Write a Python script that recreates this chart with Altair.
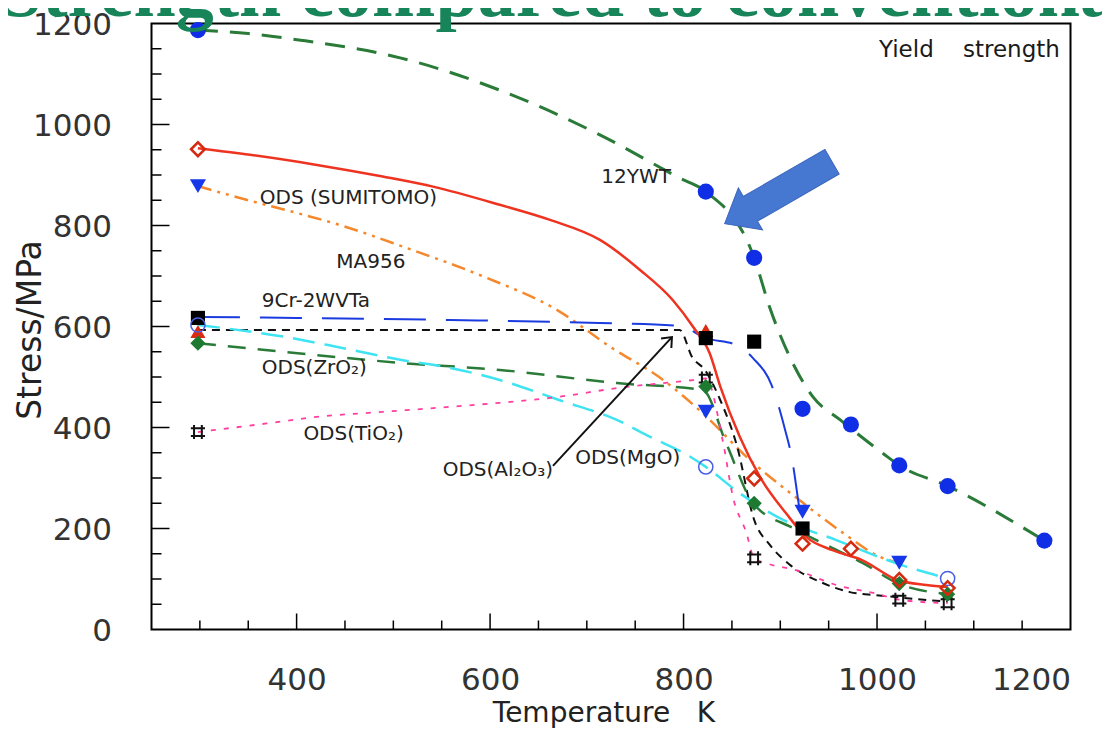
import altair as alt
import pandas as pd

# ---------------- data (Temperature K, Stress MPa) ----------------
ywt_line_K = [298, 350, 404, 507, 610, 714, 796, 823, 873, 889, 910, 934, 962, 1006, 1023, 1073, 1173]
ywt_line_MPa = [1187, 1180, 1167, 1132, 1068, 979, 894, 867, 736, 638, 539, 460, 415, 349, 325, 284, 176]
ywt_pts_K = [298, 823, 873, 923, 973, 1023, 1073, 1173]
ywt_pts_MPa = [1187, 867, 736, 437, 406, 325, 284, 176]

sum_line_K = [298, 352, 421, 489, 541, 610, 662, 714, 755, 789, 810, 827, 838, 858, 879, 906, 927, 954, 985, 1021, 1051, 1073]
sum_line_MPa = [953, 940, 920, 897, 877, 841, 811, 771, 712, 652, 599, 547, 481, 382, 302, 230, 183, 157, 137, 98, 88, 84]
sum_pts_K = [298, 873, 923, 973, 1023, 1073]
sum_pts_MPa = [951, 299, 170, 160, 98, 82]

ma_line_K = [298, 348, 400, 448, 510, 593, 669, 724, 779, 820, 869, 920, 965, 1003, 1023]
ma_line_MPa = [878, 851, 825, 799, 758, 699, 633, 560, 494, 428, 335, 256, 191, 144, 131]
ma_pts_K = [298, 823, 923, 1023]
ma_pts_MPa = [878, 431, 233, 132]

cr_line_K = [298, 400, 558, 713, 796, 823, 855, 872, 891, 905, 912, 920, 923]
cr_line_MPa = [619, 617, 613, 607, 601, 577, 563, 537, 484, 395, 339, 236, 200]
cr_pts_K = [298, 823, 873, 923]
cr_pts_MPa = [617, 577, 570, 200]

zr_line_K = [298, 386, 507, 610, 731, 820, 844, 872, 913, 951, 985, 1021, 1073]
zr_line_MPa = [567, 550, 528, 514, 488, 474, 369, 250, 201, 164, 132, 92, 70]
zr_pts_K = [298, 823, 873, 1023, 1073]
zr_pts_MPa = [567, 481, 250, 91, 70]

ti_line_K = [298, 369, 421, 489, 559, 672, 731, 810, 823, 841, 851, 865, 873, 886, 917, 958, 999, 1023, 1073]
ti_line_MPa = [391, 408, 421, 431, 441, 461, 478, 494, 497, 369, 263, 191, 141, 131, 117, 88, 71, 59, 52]
ti_pts_K = [298, 823, 873, 1023, 1073]
ti_pts_MPa = [391, 497, 141, 59, 52]

al_line_K = [298, 500, 700, 796, 809, 822, 838, 855, 873, 889, 910, 944, 972, 999, 1020, 1073]
al_line_MPa = [593, 593, 593, 593, 539, 514, 454, 365, 217, 168, 128, 92, 74, 68, 64, 55]
al_pts_K = [298, 823]
al_pts_MPa = [590, 592]

mg_line_K = [298, 386, 441, 507, 559, 610, 672, 731, 765, 807, 823, 858, 903, 958, 1020, 1073]
mg_line_MPa = [603, 580, 560, 534, 518, 494, 454, 415, 382, 342, 322, 270, 217, 177, 131, 101]
mg_pts_K = [298, 823, 1073]
mg_pts_MPa = [603, 322, 101]

# labels
left_labels = ["ODS (SUMITOMO)", "MA956", "9Cr-2WVTa", "ODS(ZrO\u2082)", "ODS(TiO\u2082)",
               "ODS(Al\u2082O\u2083)", "ODS(MgO)"]
left_labels_K = [362, 441, 364, 364, 407, 551, 688]
left_labels_MPa = [854, 728, 650, 518, 387, 316, 339]
ywt_label = ["12YWT"]
ywt_label_K = [751]
ywt_label_MPa = [896]
corner_label = ["Yield\u00a0\u00a0\u00a0\u00a0strength"]
corner_label_K = [1189]
corner_label_MPa = [1148]
page_title = ["Strength compared to conventional"]

# arrows
black_arrow_K = [665]
black_arrow_MPa = [324]
black_arrow_K2 = [788]
black_arrow_MPa2 = [579]
blue_arrow_K = [898]
blue_arrow_MPa = [865]

# ticks
x_major = [400, 600, 800, 1000]
x_minor = [300, 350, 450, 500, 550, 650, 700, 750, 850, 900, 950, 1050, 1100, 1150]
y_major = [200, 400, 600, 800, 1000]
y_minor = [50, 100, 150, 250, 300, 350, 450, 500, 550, 650, 700, 750, 850, 900, 950, 1050, 1100, 1150]
x_labels = [400, 600, 800, 1000, 1200]
y_labels = [0, 200, 400, 600, 800, 1000, 1200]

# ---------------- chart ----------------
W, H = 919, 606
FONT = "DejaVu Sans"

xaxis = alt.Axis(values=x_labels, format="d", ticks=False, domain=False, grid=False, labelOverlap=False,
                 labelFont=FONT, labelFontSize=31, labelColor="#333", labelPadding=36,
                 title="Temperature\u00a0\u00a0\u00a0K", titleFont=FONT, titleFontSize=28,
                 titleFontWeight="normal", titleColor="#222", titleX=452, titleY=92,
                 titleAlign="center", titleBaseline="alphabetic")
yaxis = alt.Axis(values=y_labels, format="d", ticks=False, domain=False, grid=False, labelOverlap=False,
                 labelFont=FONT, labelFontSize=31, labelColor="#333", labelPadding=40, labelOffset=2,
                 title="Stress/MPa", titleFont=FONT, titleFontSize=33, titleFontWeight="normal",
                 titleColor="#222", titleX=-121, titleY=306, titleAngle=270,
                 titleAlign="center", titleBaseline="middle")

xs = alt.Scale(domain=[250, 1200], nice=False, zero=False)
ys = alt.Scale(domain=[0, 1200], nice=False, zero=False)
X = alt.X("K:Q", scale=xs, axis=xaxis)
Y = alt.Y("MPa:Q", scale=ys, axis=yaxis)


def df(k, v):
    return pd.DataFrame({"K": k, "MPa": v})


def line(k, v, color, width, dash=None):
    kw = dict(color=color, strokeWidth=width, interpolate="monotone")
    if dash:
        kw["strokeDash"] = dash
    return alt.Chart(df(k, v)).mark_line(**kw).encode(x=X, y=Y)


def pts(k, v, **kw):
    kw.setdefault("opacity", 1)
    return alt.Chart(df(k, v)).mark_point(**kw).encode(x=X, y=Y)


GREEN = "#2a7a38"
layers = []

# tick marks (inward)
layers.append(alt.Chart(pd.DataFrame({"K": x_major})).mark_rule(color="black", strokeWidth=1.5)
              .encode(x=X, y=alt.value(H), y2=alt.value(H - 16)))
layers.append(alt.Chart(pd.DataFrame({"K": x_minor})).mark_rule(color="black", strokeWidth=1.5)
              .encode(x=X, y=alt.value(H), y2=alt.value(H - 9)))
layers.append(alt.Chart(pd.DataFrame({"MPa": y_major})).mark_rule(color="black", strokeWidth=1.5)
              .encode(y=Y, x=alt.value(0), x2=alt.value(18)))
layers.append(alt.Chart(pd.DataFrame({"MPa": y_minor})).mark_rule(color="black", strokeWidth=1.5)
              .encode(y=Y, x=alt.value(0), x2=alt.value(10)))

# lines
layers += [
    line(ywt_line_K, ywt_line_MPa, GREEN, 3, [20, 12]),
    line(ma_line_K, ma_line_MPa, "#f5882c", 2.5, [14, 6, 3, 6, 3, 6]),
    line(cr_line_K, cr_line_MPa, "#1a3be0", 2, [42, 20]),
    line(al_line_K, al_line_MPa, "#111111", 2, [8, 6]),
    line(zr_line_K, zr_line_MPa, GREEN, 2.5, [18, 12]),
    line(mg_line_K, mg_line_MPa, "#3fe3f2", 2.5, [22, 10]),
    line(ti_line_K, ti_line_MPa, "#ff3f9f", 1.8, [5, 8]),
    line(sum_line_K, sum_line_MPa, "#ee3320", 2.5),
]

# markers
HASH = "M-1,-0.55L1,-0.55M-1,0.55L1,0.55M-0.55,-1L-0.55,1M0.55,-1L0.55,1"
layers += [
    pts(ti_pts_K, ti_pts_MPa, shape=HASH, filled=False, color="#111111", strokeWidth=2, size=200),
    pts(al_pts_K, al_pts_MPa, shape="triangle-up", filled=True, color="#dd2a10", size=230),
    pts(cr_pts_K, cr_pts_MPa, shape="square", filled=True, color="#000000", size=200),
    pts(zr_pts_K, zr_pts_MPa, shape="diamond", filled=True, color="#1d7a30", size=230),
    pts(mg_pts_K, mg_pts_MPa, shape="circle", filled=False, color="#4a5ee6", strokeWidth=1.5, size=200),
    pts(sum_pts_K, sum_pts_MPa, shape="diamond", filled=False, color="#d42a10", strokeWidth=2.5, size=190),
    pts(ma_pts_K, ma_pts_MPa, shape="triangle-down", filled=True, color="#1638e8", size=260),
    pts(ywt_pts_K, ywt_pts_MPa, shape="circle", filled=True, color="#0f2ee6", size=260),
]

# arrows
arrow_df = pd.DataFrame({"K": black_arrow_K, "MPa": black_arrow_MPa,
                         "K2": black_arrow_K2, "MPa2": black_arrow_MPa2})
layers.append(alt.Chart(arrow_df).mark_rule(color="#111111", strokeWidth=2)
              .encode(x=X, y=Y, x2="K2:Q", y2="MPa2:Q"))
layers.append(alt.Chart(pd.DataFrame({"K": black_arrow_K2, "MPa": black_arrow_MPa2}))
              .mark_point(shape="M-0.5,0.6L0,0L0.5,0.6", filled=False, color="#111111",
                          strokeWidth=2, size=784, angle=43, opacity=1)
              .encode(x=X, y=Y))
BLOCK = "M0,-1L0.39,-0.52L0.23,-0.52L0.23,1L-0.23,1L-0.23,-0.52L-0.39,-0.52Z"
layers.append(alt.Chart(df(blue_arrow_K, blue_arrow_MPa))
              .mark_point(shape=BLOCK, filled=True, color="#4678d2", stroke="#3a66bd",
                          strokeWidth=1, size=15376, angle=240, opacity=1)
              .encode(x=X, y=Y))

# text labels
layers.append(alt.Chart(pd.DataFrame({"K": left_labels_K, "MPa": left_labels_MPa, "t": left_labels}))
              .mark_text(align="left", baseline="middle", font=FONT, fontSize=20, color="#222")
              .encode(x=X, y=Y, text="t:N"))
layers.append(alt.Chart(pd.DataFrame({"K": ywt_label_K, "MPa": ywt_label_MPa, "t": ywt_label}))
              .mark_text(align="center", baseline="middle", font=FONT, fontSize=20, color="#222")
              .encode(x=X, y=Y, text="t:N"))
layers.append(alt.Chart(pd.DataFrame({"K": corner_label_K, "MPa": corner_label_MPa, "t": corner_label}))
              .mark_text(align="right", baseline="middle", font=FONT, fontSize=23, color="#1a1a1a")
              .encode(x=X, y=Y, text="t:N"))

# page title (cut off at top, as in the slide)
layers.append(alt.Chart(pd.DataFrame({"t": page_title}))
              .mark_text(align="center", baseline="alphabetic", font="Liberation Serif",
                         fontWeight="bold", fontSize=76, color="#17845a")
              .encode(x=alt.value(418), y=alt.value(-8), text="t:N"))

chart = alt.layer(*layers).properties(
    width=W, height=H,
    padding={"left": 143.5, "top": 15.5, "right": 31.5, "bottom": 99.5},
    autosize=alt.AutoSizeParams(type="none"),
).configure_view(stroke="black", strokeWidth=2)

chart.save("out.html", embed_options={"renderer": "svg", "actions": False})
